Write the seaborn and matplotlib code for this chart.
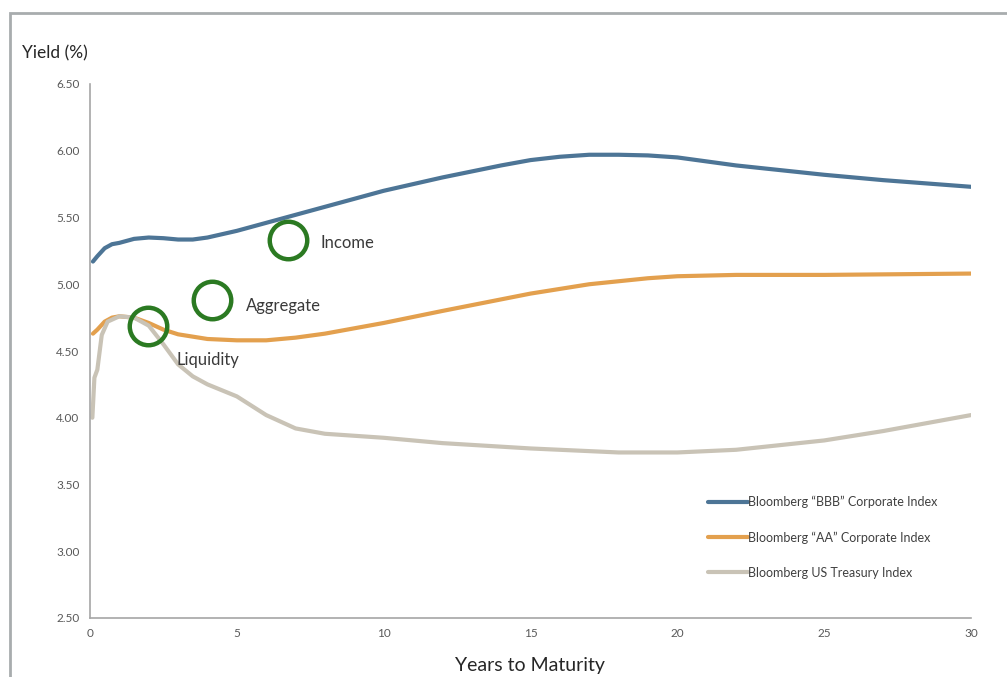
import numpy as np
import pandas as pd
import matplotlib
matplotlib.use("Agg")
import matplotlib.pyplot as plt
import seaborn as sns
from matplotlib.patches import Rectangle

sns.set_style("white")
plt.rcParams['font.family'] = ['Lato', 'DejaVu Sans']

# 数据
bbb_years = [0.1, 0.25, 0.5, 0.75, 1, 1.5, 2, 2.5, 3, 3.5, 4, 5, 6, 7, 8, 10, 12, 14, 15, 16, 17, 18, 19, 20,
             22, 25, 27, 30]
bbb_yield = [5.17, 5.21, 5.27, 5.30, 5.31, 5.34, 5.35, 5.345, 5.335, 5.335, 5.35, 5.40, 5.46, 5.52, 5.58, 5.70,
             5.80, 5.89, 5.93, 5.955, 5.97, 5.97, 5.965, 5.95, 5.89, 5.82, 5.78, 5.73]

aa_years = [0.1, 0.25, 0.5, 0.75, 1, 1.5, 2, 2.5, 3, 4, 5, 6, 7, 8, 10, 12, 15, 17, 19, 20, 22, 25, 30]
aa_yield = [4.63, 4.66, 4.72, 4.75, 4.76, 4.75, 4.71, 4.66, 4.625, 4.59, 4.58, 4.58, 4.60, 4.63, 4.71,
            4.80, 4.93, 5.00, 5.045, 5.06, 5.07, 5.07, 5.08]

tsy_years = [0.08, 0.15, 0.25, 0.4, 0.6, 1, 1.5, 2, 2.5, 3, 3.5, 4, 5, 6, 7, 8, 10, 12, 15, 18, 20, 22, 25, 27, 30]
tsy_yield = [4.00, 4.30, 4.36, 4.62, 4.72, 4.76, 4.75, 4.69, 4.55, 4.40, 4.31, 4.25, 4.16, 4.02, 3.92,
             3.88, 3.85, 3.81, 3.77, 3.74, 3.74, 3.76, 3.83, 3.90, 4.02]

series_names = ['Bloomberg \u201cBBB\u201d Corporate Index',
                'Bloomberg \u201cAA\u201d Corporate Index',
                'Bloomberg US Treasury Index']
series_colors = ['#4d7596', '#e3a04e', '#c9c3b6']

# 标注圆圈
circle_labels = ['Income', 'Aggregate', 'Liquidity']
circle_x = [6.74, 4.15, 1.97]
circle_y = [5.33, 4.88, 4.69]
text_x = [7.85, 5.3, 2.95]
text_y = [5.31, 4.84, 4.43]

y_ticks = [2.5, 3.0, 3.5, 4.0, 4.5, 5.0, 5.5, 6.0, 6.5]
x_ticks = [0, 5, 10, 15, 20, 25, 30]

df = pd.concat([
    pd.DataFrame({'Years': bbb_years, 'Yield': bbb_yield, 'Index': series_names[0]}),
    pd.DataFrame({'Years': aa_years, 'Yield': aa_yield, 'Index': series_names[1]}),
    pd.DataFrame({'Years': tsy_years, 'Yield': tsy_yield, 'Index': series_names[2]}),
], ignore_index=True)

fig = plt.figure(figsize=(10.07, 6.77), dpi=100)
ax = fig.add_axes([90 / 1007, 59 / 677, 881 / 1007, 534 / 677])

sns.lineplot(data=df, x='Years', y='Yield', hue='Index', hue_order=series_names,
             palette=series_colors, linewidth=3.0, ax=ax, sort=False,
             solid_joinstyle='round', solid_capstyle='round')

# 绿色圆圈和文字
for lab, cx, cy, tx, ty in zip(circle_labels, circle_x, circle_y, text_x, text_y):
    ax.plot(cx, cy, marker='o', markersize=27, markerfacecolor='none',
            markeredgecolor='#2b7a22', markeredgewidth=3.2, zorder=5)
    ax.text(tx, ty, lab, fontsize=12, color='#3a3a3a', ha='left', va='center')

ax.set_xlim(0, 30)
ax.set_ylim(2.5, 6.5)
ax.set_xticks(x_ticks)
ax.set_yticks(y_ticks)
ax.set_yticklabels([f'{v:.2f}' for v in y_ticks])
ax.tick_params(axis='both', which='major', direction='out', length=4, width=0.8,
               color='#a6a6a6', labelsize=8.5, labelcolor='#595959')
for side in ['top', 'right']:
    ax.spines[side].set_visible(False)
for side in ['left', 'bottom']:
    ax.spines[side].set_color('#a6a6a6')
    ax.spines[side].set_linewidth(1.2)
ax.set_xlabel('')
ax.set_ylabel('')

leg = ax.legend(loc='upper left', bbox_to_anchor=(0.689, 0.25), frameon=False,
                fontsize=9, handlelength=3.2, handletextpad=0.0, labelspacing=1.85)
for t in leg.get_texts():
    t.set_color('#404040')

fig.text(22 / 1007, 1 - 53 / 677, 'Yield (%)', fontsize=12.5, color='#262626', ha='left', va='center')
fig.text(530 / 1007, 1 - 665 / 677, 'Years to Maturity', fontsize=14, color='#262626', ha='center', va='center')

# 外框
fig.patches.append(Rectangle((10 / 1007, -0.05), 1.05, 1 - 13 / 677 + 0.05, transform=fig.transFigure,
                             fill=False, edgecolor='#a8acae', linewidth=2, clip_on=False))

fig.savefig('out.png', dpi=100)
plt.close(fig)
